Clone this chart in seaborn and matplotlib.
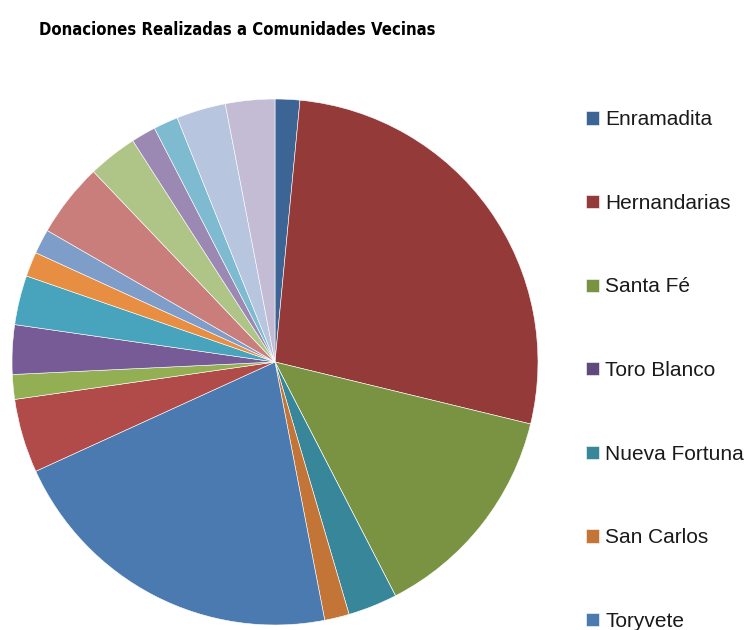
import matplotlib
matplotlib.use('Agg')
import matplotlib.pyplot as plt
import seaborn as sns

# Donaciones por comunidad (unidades), en el orden del grafico
comunidades = ['Enramadita', 'Hernandarias', 'Santa Fé', 'Toro Blanco',
               'Nueva Fortuna', 'San Carlos', 'Toryvete',
               'Com. 8', 'Com. 9', 'Com. 10', 'Com. 11', 'Com. 12', 'Com. 13',
               'Com. 14', 'Com. 15', 'Com. 16', 'Com. 17', 'Com. 18', 'Com. 19']
donaciones = [1, 18, 9, 0, 2, 1, 14,
              3, 1, 2, 2, 1, 1,
              3, 2, 1, 1, 2, 2]
n_leyenda = 7  # la leyenda del original solo muestra las primeras 7

colores = ['#3C6494', '#943B3A', '#7A9342', '#604A7B', '#388699', '#C27536',
           '#4A7AB0', '#B04B49', '#93AF54', '#775B97', '#47A4BC', '#E88E43',
           '#7F9DC9', '#C97E7C', '#AEC587', '#9B89B4', '#7FBBD0', '#B7C5DF',
           '#C3BCD4']

sns.set_theme(style='white')
plt.rcParams['font.family'] = ['Liberation Sans', 'DejaVu Sans']

fig = plt.figure(figsize=(7.52, 6.30), dpi=100)
ax = fig.add_axes([12 / 752, 5 / 630, 526 / 752, 526 / 630])

wedges, _ = ax.pie(donaciones, colors=sns.color_palette(colores), startangle=90,
                   counterclock=False, radius=1,
                   wedgeprops=dict(edgecolor='white', linewidth=0.4))
ax.set_xlim(-1, 1)
ax.set_ylim(-1, 1)
ax.set_axis_off()

fig.text(0.316, 0.952, 'Donaciones Realizadas a Comunidades Vecinas',
         ha='center', va='center', fontsize=12, fontweight='bold',
         family=['DejaVu Sans'], fontstretch='condensed', color='black')

fig.legend(wedges[:n_leyenda], comunidades[:n_leyenda], loc='upper left',
           bbox_to_anchor=(578 / 752, 1 - 102 / 630), frameon=False,
           fontsize=15, handlelength=0.6, handleheight=0.6, handletextpad=0.3,
           labelspacing=3.1, borderaxespad=0, labelcolor='#1a1a1a')

fig.savefig('out.png', dpi=100)
